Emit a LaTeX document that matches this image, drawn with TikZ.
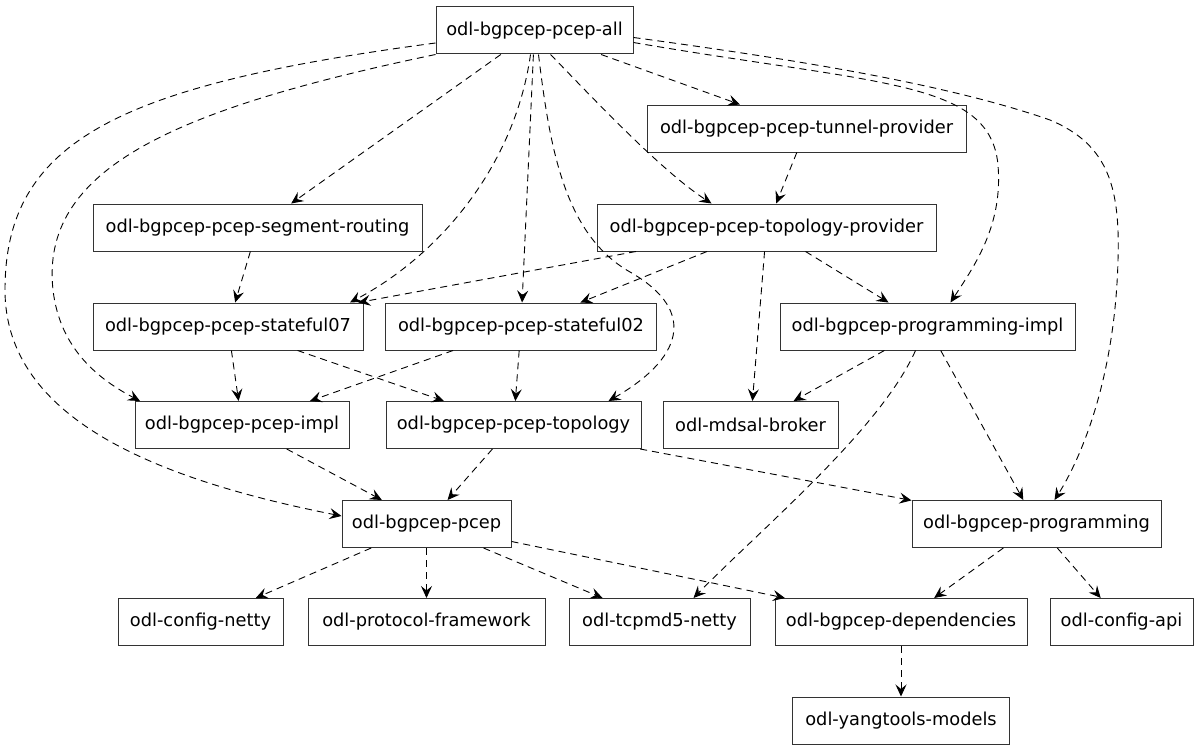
\documentclass[tikz,border=0pt]{standalone}
\usepackage{fontspec}
\setmainfont{DejaVu Sans}
\usetikzlibrary{arrows.meta, positioning, calc}

\begin{document}
\begin{tikzpicture}[x=1pt, y=-1pt,
        pkg/.style={draw=black!80, line width=1pt, rectangle, fill=white, text centered, minimum height=47pt, inner sep=0pt, font=\fontsize{17.8pt}{20pt}\selectfont},
        dep/.style={draw, line width=0.9pt, dash pattern=on 7pt off 5pt, -{Stealth[length=12pt, width=11pt, inset=4.5pt]}}]

        		\useasboundingbox (0,0) rectangle (1199,752);

        		\node (PcepAll) at (534.5,30.5) [pkg, minimum width=197pt]{odl-bgpcep-pcep-all};

        		\node (TunnelProvider) at ($(PcepAll) + (272,98)$) [pkg, minimum width=319pt]{odl-bgpcep-pcep-tunnel-provider};
        		\draw[dep] (PcepAll) -- (TunnelProvider);
        		\node (SegmentRouting) at ($(PcepAll) + (-277,197)$) [pkg, minimum width=329pt]{odl-bgpcep-pcep-segment-routing};
        		\draw[dep] (PcepAll) -- (SegmentRouting);
        		\node (TopologyProvider) at ($(TunnelProvider) + (-40,99)$) [pkg, minimum width=339pt]{odl-bgpcep-pcep-topology-provider};
        		\draw[dep] (TunnelProvider) -- (TopologyProvider);
        		\draw[dep] ([xshift=16pt]PcepAll.south) .. controls (590,95) and (660,170) .. ([xshift=-55pt]TopologyProvider.north);

        		\node (Stateful07) at ($(SegmentRouting) + (-29.5,99)$) [pkg, minimum width=270pt]{odl-bgpcep-pcep-stateful07};
        		\draw[dep] (SegmentRouting) -- (Stateful07);
        		\draw[dep] (TopologyProvider) -- (Stateful07);
        		\draw[dep] ([xshift=-4pt]PcepAll.south) .. controls (515,165) and (440,255) .. ([xshift=122pt]Stateful07.north);
        		\node (Stateful02) at ($(TopologyProvider) + (-245.5,99)$) [pkg, minimum width=271pt]{odl-bgpcep-pcep-stateful02};
        		\draw[dep] (TopologyProvider) -- (Stateful02);
        		\draw[dep] (PcepAll) -- (Stateful02);
        		\node (ProgrammingImpl) at ($(TopologyProvider) + (161,99)$) [pkg, minimum width=295pt]{odl-bgpcep-programming-impl};
        		\draw[dep] (TopologyProvider) -- (ProgrammingImpl);
        		\draw[dep] ([yshift=-12pt]PcepAll.east) .. controls (880,85) and (990,80) .. (998,165) .. controls (1003,225) and (975,265) .. ([xshift=23pt]ProgrammingImpl.north);

        		\node (PcepImpl) at ($(Stateful07) + (14,98.5)$) [pkg, minimum width=214pt]{odl-bgpcep-pcep-impl};
        		\draw[dep] (Stateful07) -- (PcepImpl);
        		\draw[dep] (Stateful02) -- (PcepImpl);
        		\draw[dep] (PcepAll.south west) .. controls (170,110) and (40,170) .. (53,290) .. controls (60,350) and (100,380) .. ([xshift=-102pt]PcepImpl.north);
        		\node (PcepTopology) at ($(Stateful02) + (-7.5,98.5)$) [pkg, minimum width=255pt]{odl-bgpcep-pcep-topology};
        		\draw[dep] (Stateful07) -- (PcepTopology);
        		\draw[dep] (Stateful02) -- (PcepTopology);
        		\draw[dep] ([xshift=4pt]PcepAll.south) .. controls (550,150) and (565,235) .. (630,272) .. controls (700,312) and (680,360) .. ([xshift=95pt]PcepTopology.north);
        		\node (MdsalBroker) at ($(ProgrammingImpl) + (-177,98.5)$) [pkg, minimum width=175pt]{odl-mdsal-broker};
        		\draw[dep] (TopologyProvider) -- (MdsalBroker);
        		\draw[dep] (ProgrammingImpl) -- (MdsalBroker);

        		\node (Pcep) at ($(PcepTopology) + (-87,99)$) [pkg, minimum width=169pt]{odl-bgpcep-pcep};
        		\draw[dep] (PcepImpl) -- (Pcep);
        		\draw[dep] (PcepTopology) -- (Pcep);
        		\draw[dep] ([yshift=-12.5pt]PcepAll.west) .. controls (120,85) and (5,140) .. (5,290) .. controls (5,420) and (160,480) .. ([yshift=8pt]Pcep.west);
        		\node (Programming) at ($(ProgrammingImpl) + (109,197.5)$) [pkg, minimum width=249pt]{odl-bgpcep-programming};
        		\draw[dep] (ProgrammingImpl) -- (Programming);
        		\draw[dep] (PcepTopology) -- (Programming);
        		\draw[dep] ([yshift=-7pt]PcepAll.east) .. controls (800,60) and (950,85) .. (1050,120) .. controls (1110,145) and (1120,190) .. (1118,260) .. controls (1115,380) and (1080,460) .. ([xshift=18pt]Programming.north);

        		\node (ConfigNetty) at ($(Pcep) + (-226,98)$) [pkg, minimum width=165pt]{odl-config-netty};
        		\draw[dep] (Pcep) -- (ConfigNetty);
        		\node (ProtocolFramework) at ($(Pcep) + (0,98)$) [pkg, minimum width=237pt]{odl-protocol-framework};
        		\draw[dep] (Pcep) -- (ProtocolFramework);
        		\node (Tcpmd5Netty) at ($(Pcep) + (233,98)$) [pkg, minimum width=181pt]{odl-tcpmd5-netty};
        		\draw[dep] (Pcep) -- (Tcpmd5Netty);
        		\draw[dep] ([xshift=-12pt]ProgrammingImpl.south) .. controls (880,430) and (760,530) .. ([xshift=34pt]Tcpmd5Netty.north);
        		\node (Dependencies) at ($(Programming) + (-135.5,98)$) [pkg, minimum width=252pt]{odl-bgpcep-dependencies};
        		\draw[dep] (Pcep) -- (Dependencies);
        		\draw[dep] (Programming) -- (Dependencies);
        		\node (ConfigApi) at ($(Programming) + (85,98)$) [pkg, minimum width=143pt]{odl-config-api};
        		\draw[dep] (Programming) -- (ConfigApi);

        		\node (YangtoolsModels) at ($(Dependencies) + (0,98.5)$) [pkg, minimum width=217pt]{odl-yangtools-models};
        		\draw[dep] (Dependencies) -- (YangtoolsModels);
		    \end{tikzpicture}
\end{document}
